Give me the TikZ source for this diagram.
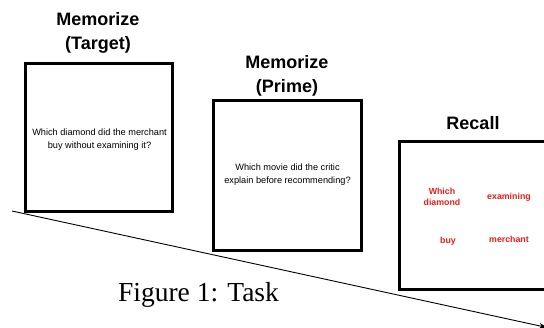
\documentclass[tikz,border=0pt]{standalone}
\usepackage{fontspec}
\setmainfont{Liberation Sans}
\newfontfamily\capfont{Liberation Serif}
\usetikzlibrary{arrows.meta}
\definecolor{recallred}{RGB}{230,30,25}
\tikzset{
  card/.style={draw=black, line width=3pt, fill=white, inner sep=0pt},
  cardtext/.style={font=\fontsize{9.2}{13}\selectfont, align=center, text=black},
  heading/.style={font=\bfseries\fontsize{18}{23.5}\selectfont, align=center},
  recallword/.style={font=\bfseries\fontsize{8.8}{10.5}\selectfont, align=center, text=recallred},
}
\begin{document}
\begin{tikzpicture}[x=1pt, y=-1pt]
\useasboundingbox (0,0) rectangle (544,328);
\begin{scope}
\clip (0,0) rectangle (544,328);
% timeline
\coordinate (tstart) at (12,211);
\coordinate (tend) at (547,327.5);
\draw[line width=0.9pt, -{Stealth[length=8pt,width=6pt]}] (tstart) -- (tend);
% cards
\node[card, minimum width=147pt, minimum height=148pt] (target) at (99,137.5) {};
\node[card, minimum width=148pt, minimum height=150pt] (prime) at (287.5,175.5) {};
\node[card, minimum width=148pt, minimum height=148pt] (recall) at (473.5,215.5) {};
% headings
\node[heading] (h1) at (98,33) {Memorize\\(Target)};
\node[heading] (h2) at (287,76) {Memorize\\(Prime)};
\node[heading] (h3) at (473,123) {Recall};
% card texts
\node[cardtext] (t1) at (99.5,139.5) {Which diamond did the merchant\\buy without examining it?};
\node[cardtext] (t2) at (287.5,174.5) {Which movie did the critic\\explain before recommending?};
% recall words
\node[recallword] (w1) at (442,197) {Which\\diamond};
\node[recallword] (w2) at (509,197.5) {examining};
\node[recallword] (w3) at (448,241) {buy};
\node[recallword] (w4) at (509,239.5) {merchant};
% caption
\node[font=\capfont\fontsize{27.5}{30}\selectfont] (cap) at (198.5,295) {Figure 1: Task};
\end{scope}
\end{tikzpicture}
\end{document}
